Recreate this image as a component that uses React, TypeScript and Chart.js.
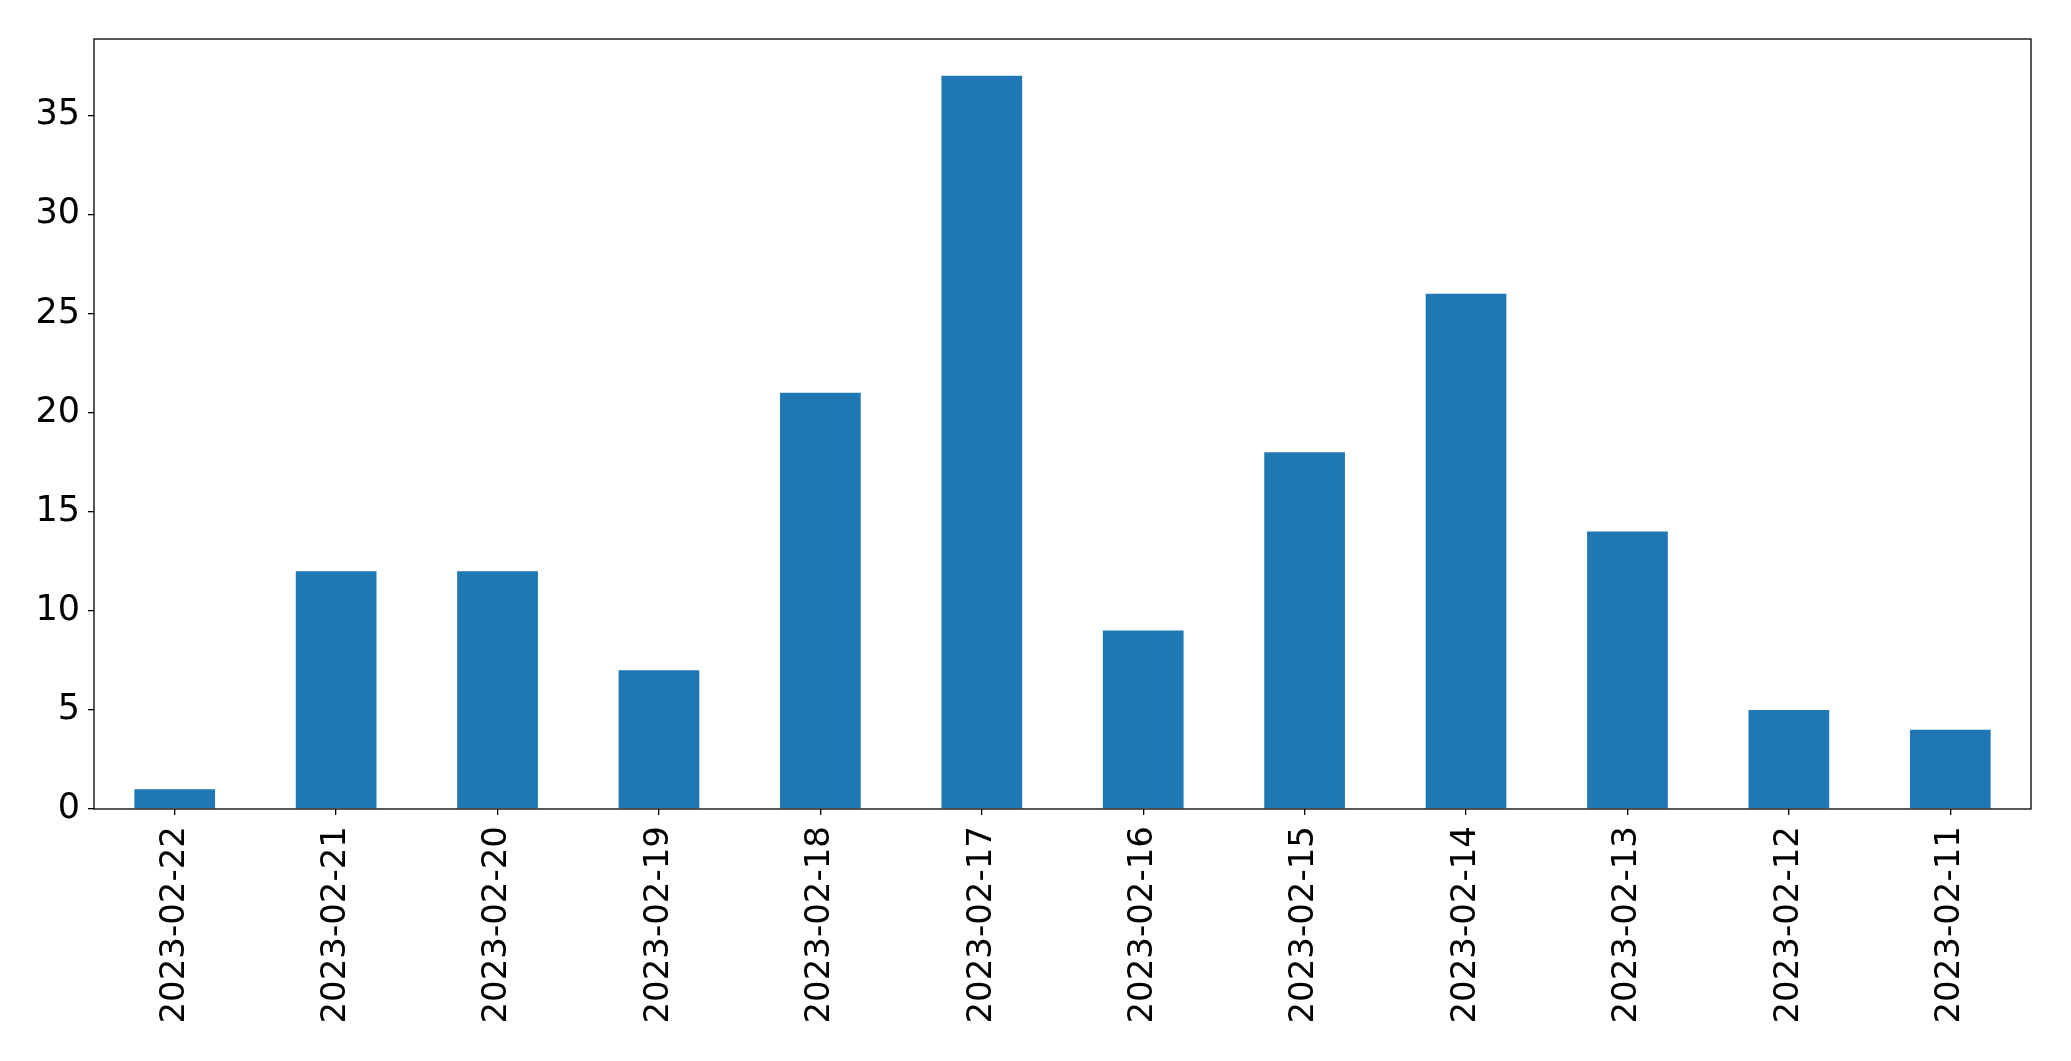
import React, { useEffect, useRef } from "react";
import { Chart, registerables } from "chart.js";

Chart.register(...registerables);

const categories = [
  "2023-02-22", "2023-02-21", "2023-02-20", "2023-02-19", "2023-02-18", "2023-02-17",
  "2023-02-16", "2023-02-15", "2023-02-14", "2023-02-13", "2023-02-12", "2023-02-11",
];
const counts = [1, 12, 12, 7, 21, 37, 9, 18, 26, 14, 5, 4];
const yTicks = [0, 5, 10, 15, 20, 25, 30, 35];
const yMax = 38.85;

const FONT = "'DejaVu Sans', sans-serif";

const frame = {
  id: "frame",
  afterDraw(chart: any) {
    const { ctx, chartArea: a } = chart;
    ctx.save();
    ctx.strokeStyle = "#000";
    ctx.lineWidth = 1.3;
    ctx.strokeRect(a.left, a.top, a.right - a.left, a.bottom - a.top);
    ctx.restore();
  },
};

export default function App() {
  const ref = useRef<HTMLCanvasElement>(null);
  useEffect(() => {
    document.body.style.margin = "0";
    const chart = new Chart(ref.current!, {
      type: "bar",
      data: {
        labels: categories,
        datasets: [
          {
            data: counts,
            backgroundColor: "#1f77b4",
            borderWidth: 0,
            categoryPercentage: 0.5,
            barPercentage: 1,
          },
        ],
      },
      plugins: [frame],
      options: {
        animation: false,
        responsive: true,
        maintainAspectRatio: false,
        layout: { padding: { left: 0, top: 39, right: 40, bottom: 0 } },
        plugins: { legend: { display: false }, tooltip: { enabled: false } },
        scales: {
          x: {
            offset: true,
            grid: { display: true, drawOnChartArea: false, drawTicks: true, tickLength: 6, color: "#000", lineWidth: 1.3, offset: false },
            border: { display: false },
            ticks: {
              color: "#000",
              font: { family: FONT, size: 34 },
              minRotation: 90,
              maxRotation: 90,
              padding: 11,
              autoSkip: false,
            },
            afterFit(scale: any) {
              scale.height = 252;
            },
          },
          y: {
            min: 0,
            max: yMax,
            grid: { display: true, drawOnChartArea: false, drawTicks: true, tickLength: 6, color: "#000", lineWidth: 1.3 },
            border: { display: false },
            ticks: {
              color: "#000",
              font: { family: FONT, size: 35 },
              padding: 8,
            },
            afterBuildTicks(scale: any) {
              scale.ticks = yTicks.map((v) => ({ value: v }));
            },
            afterFit(scale: any) {
              scale.width = 94;
            },
          },
        },
      },
    });
    return () => chart.destroy();
  }, []);
  return (
    <div style={{ position: "fixed", left: 0, top: 0, width: "100vw", height: "100vh", background: "#fff" }}>
      <canvas ref={ref} />
    </div>
  );
}
